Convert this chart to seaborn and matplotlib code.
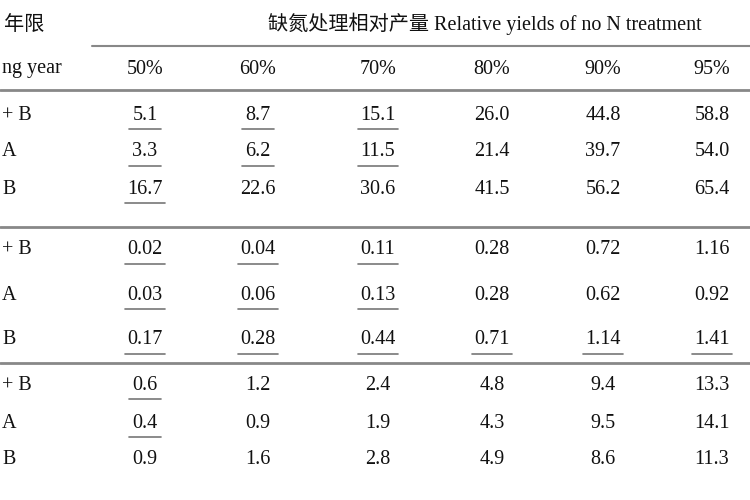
import matplotlib
matplotlib.use('Agg')
import matplotlib.pyplot as plt
import seaborn as sns

# 表格数据（左列在原图中被裁切，只保留可见部分）
columns = ['50%', '60%', '70%', '80%', '90%', '95%']
row_labels = ['+ B', 'A', 'B'] * 3
values = [
    ['5.1', '8.7', '15.1', '26.0', '44.8', '58.8'],
    ['3.3', '6.2', '11.5', '21.4', '39.7', '54.0'],
    ['16.7', '22.6', '30.6', '41.5', '56.2', '65.4'],
    ['0.02', '0.04', '0.11', '0.28', '0.72', '1.16'],
    ['0.03', '0.06', '0.13', '0.28', '0.62', '0.92'],
    ['0.17', '0.28', '0.44', '0.71', '1.14', '1.41'],
    ['0.6', '1.2', '2.4', '4.8', '9.4', '13.3'],
    ['0.4', '0.9', '1.9', '4.3', '9.5', '14.1'],
    ['0.9', '1.6', '2.8', '4.9', '8.6', '11.3'],
]
underline = [
    [1, 1, 1, 0, 0, 0],
    [1, 1, 1, 0, 0, 0],
    [1, 0, 0, 0, 0, 0],
    [1, 1, 1, 0, 0, 0],
    [1, 1, 1, 0, 0, 0],
    [1, 1, 1, 1, 1, 1],
    [1, 0, 0, 0, 0, 0],
    [1, 0, 0, 0, 0, 0],
    [0, 0, 0, 0, 0, 0],
]

sns.set_theme(style='white')
plt.rcParams['font.family'] = ['Liberation Serif', 'Noto Sans CJK SC']

fig = plt.figure(figsize=(7.5, 5), dpi=100)
ax = fig.add_axes([0, 0, 1, 1])
ax.set_xlim(0, 750)
ax.set_ylim(500, 0)
ax.axis('off')

col_x = [145, 258, 378, 492, 603, 712]
row_y = [115, 152, 189, 250, 295, 340, 385, 423, 460]
txt = dict(fontsize=14.5, color='#111111', va='center')

# 表头
ax.text(4, 25, '年限', ha='left', **txt)
ax.text(485, 24, '缺氮处理相对产量 Relative yields of no N treatment', ha='center', **txt)
ax.text(2, 68, 'ng year', ha='left', **txt)
for x, c in zip(col_x, columns):
    ax.text(x, 70, c, ha='center', **txt)

# 分隔线
ax.plot([92, 750], [46, 46], color='#888888', lw=1.5)
for y in [90, 227, 363]:
    ax.plot([0, 750], [y, y], color='#888888', lw=2)

# 数据
for i, (lab, row) in enumerate(zip(row_labels, values)):
    y = row_y[i]
    ax.text(2, y, lab, ha='left', **txt)
    for j, v in enumerate(row):
        ax.text(col_x[j], y, v, ha='center', **txt)
        if underline[i][j]:
            w = 8.5 * len(v) / 2 + 3
            ax.plot([col_x[j] - w, col_x[j] + w], [y + 14, y + 14], color='#777777', lw=1.2)

fig.savefig('out.png', dpi=100, facecolor='white')
